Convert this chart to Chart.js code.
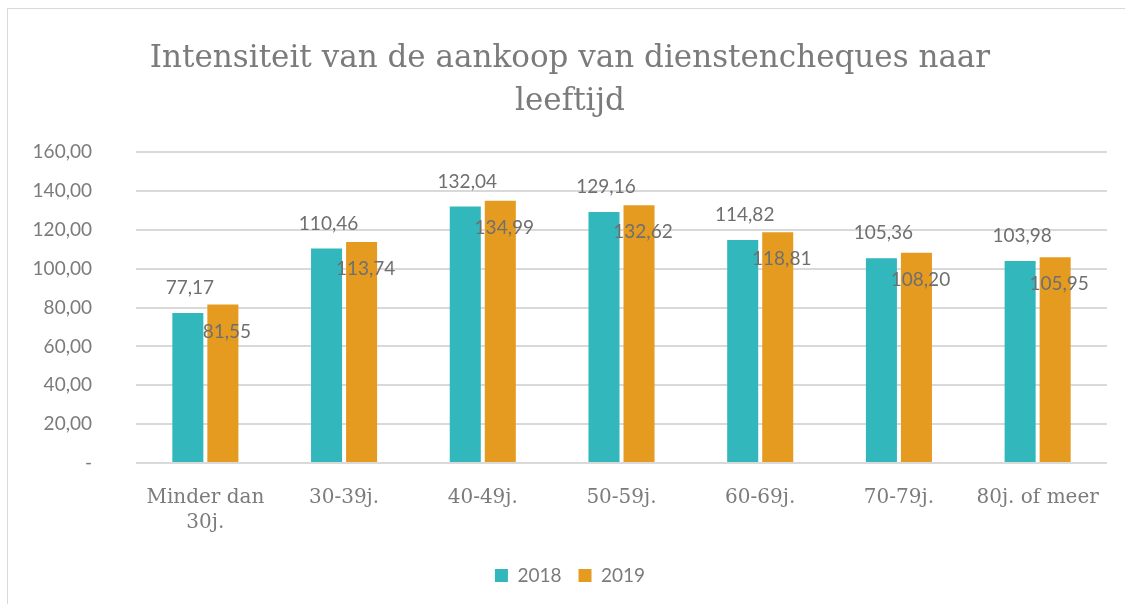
<!DOCTYPE html>
<html>
<head>
<meta charset="utf-8">
<script src="https://cdn.jsdelivr.net/npm/chart.js@4"></script>
<style>
  html, body { margin: 0; padding: 0; background: #fff; overflow: hidden; }
  #wrap { position: relative; width: 1125px; height: 604px; }
  #frame { position: absolute; left: 7px; top: 8px; width: 1130px; height: 610px; border: 1px solid #d9d9d9; box-sizing: border-box; }
  canvas { position: absolute; left: 0; top: 0; }
</style>
</head>
<body>
<div id="wrap">
  <div id="frame"></div>
  <canvas id="myChart" width="1125" height="604"></canvas>
</div>
<script>
const categories = [['Minder dan', '30j.'], '30-39j.', '40-49j.', '50-59j.', '60-69j.', '70-79j.', '80j. of meer'];
const values2018 = [77.17, 110.46, 132.04, 129.16, 114.82, 105.36, 103.98];
const values2019 = [81.55, 113.74, 134.99, 132.62, 118.81, 108.20, 105.95];
const yTicks = [0, 20, 40, 60, 80, 100, 120, 140, 160];

const textGrey = '#7b7b7b';
const serif = '"DejaVu Serif", serif';
const sans = 'Lato, "Noto Sans", sans-serif';

function fmt(v) {
    return v.toFixed(2).replace('.', ',');
}

// labels like the excel original: 2018 above the bar, 2019 just under its top
const valueLabels = {
    id: 'valueLabels',
    afterDatasetsDraw(chart) {
        let ctx = chart.ctx;
        ctx.save();
        ctx.font = '19px ' + sans;
        ctx.fillStyle = '#6f6f6f';
        ctx.textAlign = 'center';
        ctx.textBaseline = 'middle';
        chart.data.datasets.forEach((ds, i) => {
            let meta = chart.getDatasetMeta(i);
            meta.data.forEach((bar, j) => {
                if (i === 0) {
                    ctx.fillText(fmt(ds.data[j]), bar.x + 2, bar.y - 25);
                } else {
                    ctx.fillText(fmt(ds.data[j]), bar.x + 4, bar.y + 27);
                }
            });
        });
        ctx.restore();
    }
};

let ctx = document.getElementById('myChart').getContext('2d');
new Chart(ctx, {
    type: 'bar',
    data: {
        labels: categories,
        datasets: [
            { label: '2018', data: values2018, backgroundColor: '#31b7bc' },
            { label: '2019', data: values2019, backgroundColor: '#e59b20' }
        ]
    },
    options: {
        responsive: false,
        animation: false,
        layout: { padding: { left: 33, right: 18, top: 37, bottom: 9 } },
        datasets: {
            bar: { categoryPercentage: 0.505, barPercentage: 0.886 }
        },
        plugins: {
            title: {
                display: true,
                text: ['Intensiteit van de aankoop van dienstencheques naar', 'leeftijd'],
                color: textGrey,
                font: { family: serif, size: 31, weight: 'normal', lineHeight: 1.39 },
                padding: { top: 0, bottom: 29 }
            },
            legend: {
                position: 'bottom',
                labels: {
                    color: textGrey,
                    font: { family: sans, size: 19 },
                    boxWidth: 13,
                    boxHeight: 13,
                    padding: 17
                }
            },
            tooltip: { enabled: false }
        },
        scales: {
            x: {
                grid: { display: false },
                border: { display: false },
                ticks: {
                    color: textGrey,
                    font: { family: serif, size: 20, lineHeight: 1.25 },
                    padding: 14,
                    maxRotation: 0
                }
            },
            y: {
                min: 0,
                max: 160,
                afterBuildTicks(axis) {
                    axis.ticks = yTicks.map(v => ({ value: v }));
                },
                afterFit(axis) {
                    axis.width = 103;
                },
                grid: { color: '#d9d9d9', lineWidth: 2, drawTicks: false },
                border: { display: false },
                ticks: {
                    color: textGrey,
                    font: { family: sans, size: 19 },
                    padding: 44,
                    callback: v => v === 0 ? '-' : fmt(v)
                }
            }
        }
    },
    plugins: [valueLabels]
});
</script>
</body>
</html>
